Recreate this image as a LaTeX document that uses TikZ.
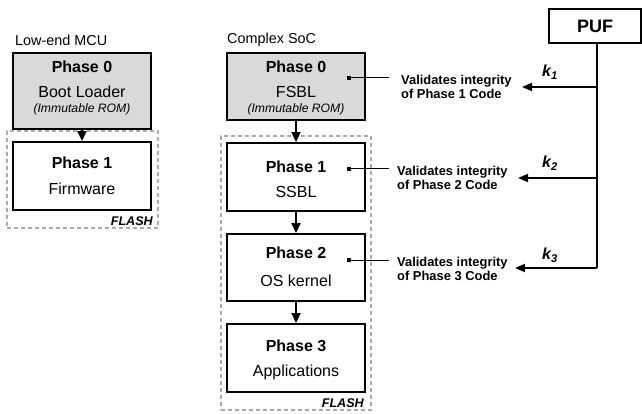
\documentclass[tikz,border=0pt]{standalone}
\usepackage{fontspec}
\setmainfont{Liberation Sans}
\usetikzlibrary{arrows.meta}
\definecolor{boxgray}{HTML}{D9D9D9}
\definecolor{dashgray}{HTML}{AAAAAA}
\tikzset{
  box/.style={draw=black, line width=1.9pt, minimum width=138pt, inner sep=0pt},
  romfill/.style={fill=boxgray},
  flashbox/.style={draw=dashgray, line width=1.8pt, dash pattern=on 4pt off 3pt, inner sep=0pt},
  ttl/.style={font=\fontsize{16}{18}\selectfont\bfseries, inner sep=0pt},
  sub/.style={font=\fontsize{16}{18}\selectfont, inner sep=0pt},
  rom/.style={font=\fontsize{12.2}{14}\selectfont\itshape, inner sep=0pt},
  hdr/.style={font=\fontsize{14.4}{16}\selectfont, inner sep=0pt, anchor=west},
  flashlbl/.style={font=\fontsize{12.6}{14}\selectfont\bfseries\itshape, inner sep=0pt, anchor=south east},
  note/.style={font=\fontsize{12.9}{14.3}\selectfont\bfseries, inner sep=0pt, anchor=west, align=left},
  klbl/.style={font=\fontsize{16}{18}\selectfont\bfseries\itshape, inner sep=0pt},
  flow/.style={line width=1.9pt, -{Triangle[length=10pt,width=9pt]}},
  keyarrow/.style={line width=1.9pt, -{Triangle[length=10pt,width=8pt]}},
  thin/.style={line width=1pt},
  dot/.style={fill=black, minimum size=3.5pt, inner sep=0pt},
}
\begin{document}
\begin{tikzpicture}[x=1pt,y=-1pt]
\useasboundingbox (0,0) rectangle (642,414);

% Left column
\node[hdr] (hL) at (15,40) {Low-end MCU};
\node[flashbox, minimum width=151pt, minimum height=97pt] (fL) at (82.5,179.5) {};
\node[box, romfill, minimum height=76pt] (p0L) at (82,91) {};
\node[box, fill=white, minimum height=68pt] (p1L) at (82,176) {};
\node[ttl] (t0L) at (82,67) {Phase 0};
\node[sub] (s0L) at (82,92) {Boot Loader};
\node[rom] (r0L) at (82,109) {(Immutable ROM)};
\node[ttl] (t1L) at (82,163) {Phase 1};
\node[sub] (s1L) at (82,189) {Firmware};
\node[flashlbl] (flL) at (153,226) {FLASH};
\draw[flow] (p0L.south) -- (p1L.north);

% Middle column
\node[hdr] (hM) at (227,40) {Complex SoC};
\node[flashbox, minimum width=150pt, minimum height=274pt] (fM) at (296,273) {};
\node[box, romfill, minimum height=67pt] (p0M) at (296,86.5) {};
\node[box, fill=white, minimum height=68pt] (p1M) at (296,177) {};
\node[box, fill=white, minimum height=67pt] (p2M) at (296,267.5) {};
\node[box, fill=white, minimum height=68pt] (p3M) at (296,358) {};
\node[ttl] (t0M) at (296,67) {Phase 0};
\node[sub] (s0M) at (296,92) {FSBL};
\node[rom] (r0M) at (296,109) {(Immutable ROM)};
\node[ttl] (t1M) at (296,167) {Phase 1};
\node[sub] (s1M) at (296,192) {SSBL};
\node[ttl] (t2M) at (296,253) {Phase 2};
\node[sub] (s2M) at (296,281) {OS kernel};
\node[ttl] (t3M) at (296,346) {Phase 3};
\node[sub] (s3M) at (296,372) {Applications};
\node[flashlbl] (flM) at (364,408) {FLASH};
\draw[flow] (p0M.south) -- (p1M.north);
\draw[flow] (p1M.south) -- (p2M.north);
\draw[flow] (p2M.south) -- (p3M.north);

% Validation notes
\node[dot] (d1) at (349,78) {};
\node[dot] (d2) at (349,169) {};
\node[dot] (d3) at (349,260) {};
\coordinate (e1) at (389,78);
\coordinate (e2) at (389,169);
\coordinate (e3) at (389,260);
\draw[thin] (d1.center) -- (e1);
\draw[thin] (d2.center) -- (e2);
\draw[thin] (d3.center) -- (e3);
\node[note] (n1) at (401,87) {Validates integrity\\of Phase 1 Code};
\node[note] (n2) at (397,178) {Validates integrity\\of Phase 2 Code};
\node[note] (n3) at (397,269) {Validates integrity\\of Phase 3 Code};

% PUF
\node[draw=black, line width=1.9pt, minimum width=92pt, minimum height=34pt, inner sep=0pt,
      font=\fontsize{18}{20}\selectfont\bfseries] (puf) at (595,26) {PUF};
\coordinate (b1) at (597,87);
\coordinate (b2) at (597,178);
\coordinate (b3) at (597,268);
\coordinate (a1) at (522,87);
\coordinate (a2) at (518,178);
\coordinate (a3) at (515,268);
\draw[line width=1.9pt] (puf.south -| b1) -- (b3);
\draw[keyarrow] (b1) -- (a1);
\draw[keyarrow] (b2) -- (a2);
\draw[keyarrow] (b3) -- (a3);
\node[klbl] (k1) at (550,72) {k\textsubscript{1}};
\node[klbl] (k2) at (550,163) {k\textsubscript{2}};
\node[klbl] (k3) at (550,255) {k\textsubscript{3}};
\end{tikzpicture}
\end{document}
